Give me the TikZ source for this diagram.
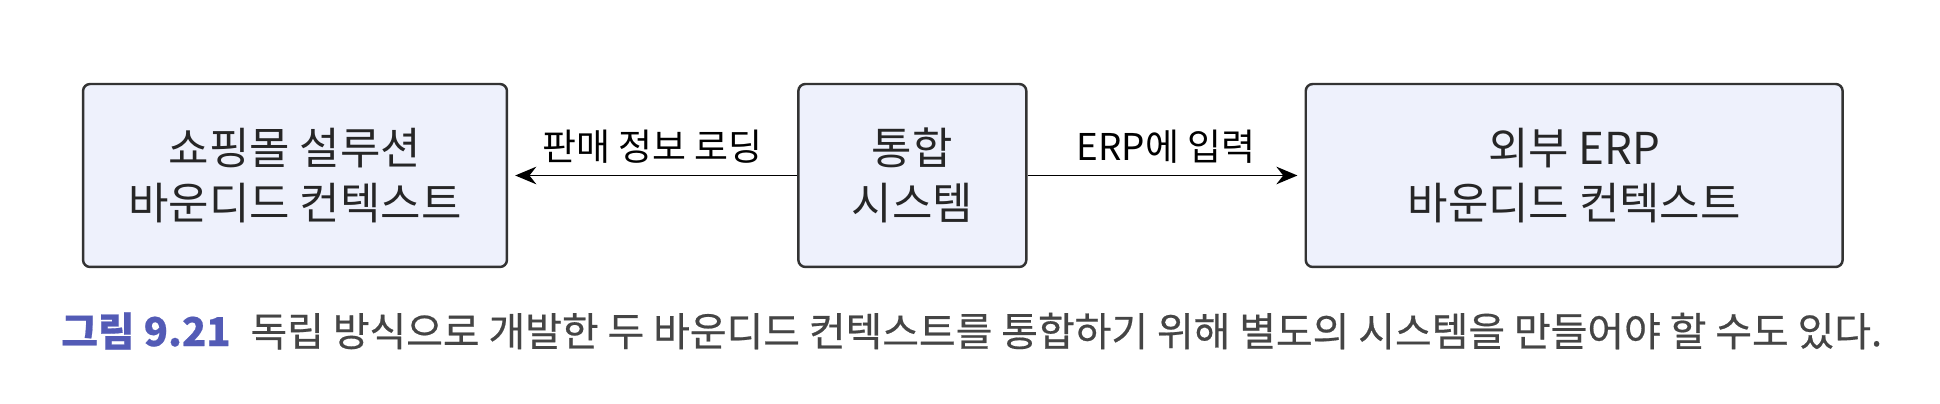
\documentclass[tikz,border=0pt]{standalone}
\usepackage{fontspec}
\setmainfont{Noto Sans CJK KR}
\newfontfamily\capfont{Noto Sans CJK KR}[FakeBold=0.5]
\usetikzlibrary{positioning,arrows.meta}

\definecolor{boxfill}{HTML}{EEF1FC}
\definecolor{boxline}{HTML}{333333}
\definecolor{capblue}{HTML}{535BB6}
\definecolor{capgray}{HTML}{454545}

\begin{document}
\begin{tikzpicture}
		[
		x = 0.02cm, y = -0.02cm,
		context/.style   = {draw=boxline, fill=boxfill, line width=1.4pt,
			rounded corners=4pt, minimum height=3.66cm, align=center,
			font=\fontsize{25}{31}\selectfont, text=black!85},
		flow/.style      = {-{Stealth[length=12pt,width=10pt]}, line width=1.1pt,
			shorten >=4pt},
		flowlabel/.style = {above=3pt, font=\fontsize{21}{24}\selectfont}
		]
		\useasboundingbox (0,0) rectangle (1940,404);
		\node (shop)  [context, minimum width=8.48cm] at (295,175.5)
			{쇼핑몰 설루션\\바운디드 컨텍스트};
		\node (integ) [context, minimum width=4.56cm, right=5.78cm of shop]
			{통합\\시스템};
		\node (erp)   [context, minimum width=10.74cm, right=5.54cm of integ]
			{외부 ERP\\바운디드 컨텍스트};
		\path
		(integ) edge [flow] node [flowlabel] {판매 정보 로딩} (shop)
		(integ) edge [flow] node [flowlabel] {ERP에 입력} (erp);
		\node (caption) [anchor=west, font=\capfont\fontsize{22.7}{26}\selectfont] at (55,331)
			{\textcolor{capblue}{\textbf{그림 9.21}}\enspace
			\textcolor{capgray}{독립 방식으로 개발한 두 바운디드 컨텍스트를 통합하기 위해 별도의 시스템을 만들어야 할 수도 있다.}};
		\end{tikzpicture}
\end{document}
